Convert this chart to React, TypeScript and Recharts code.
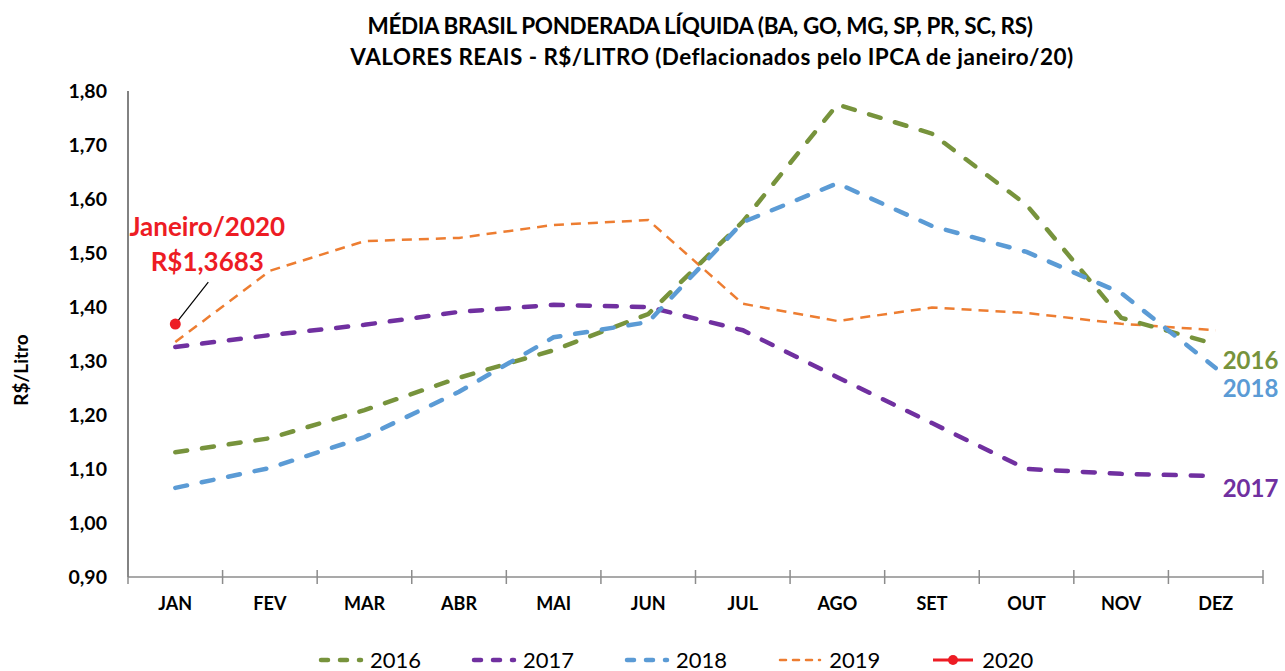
import React from 'react';
import { LineChart, Line, XAxis, YAxis } from 'recharts';

// ─── Data ─────────────────────────────────────────────────────────────────────

const MONTHS = ['JAN', 'FEV', 'MAR', 'ABR', 'MAI', 'JUN', 'JUL', 'AGO', 'SET', 'OUT', 'NOV', 'DEZ'];

const S2016 = [1.131, 1.157, 1.209, 1.269, 1.320, 1.387, 1.558, 1.775, 1.721, 1.589, 1.380, 1.331];
const S2017 = [1.326, 1.348, 1.367, 1.391, 1.404, 1.400, 1.357, 1.270, 1.185, 1.100, 1.091, 1.087];
const S2018 = [1.065, 1.102, 1.159, 1.243, 1.344, 1.372, 1.557, 1.629, 1.550, 1.502, 1.426, 1.287];
const S2019 = [1.335, 1.467, 1.522, 1.528, 1.552, 1.561, 1.406, 1.374, 1.399, 1.389, 1.369, 1.357];
const S2020 = [1.3683];

const Y_TICKS = [0.9, 1.0, 1.1, 1.2, 1.3, 1.4, 1.5, 1.6, 1.7, 1.8];

const data = MONTHS.map((m, i) => ({
  month: m,
  y2016: S2016[i],
  y2017: S2017[i],
  y2018: S2018[i],
  y2019: S2019[i],
  y2020: i < S2020.length ? S2020[i] : null,
}));

// ─── Styles ───────────────────────────────────────────────────────────────────

const FONT = 'Lato, "Open Sans", sans-serif';
const GREEN = '#77933C';
const PURPLE = '#7030A0';
const BLUE = '#5B9BD5';
const ORANGE = '#ED7D31';
const RED = '#ED1C24';
const AXIS_GRAY = '#8c8c8c';

const W = 1285;
const H = 671;

// ─── Helpers ──────────────────────────────────────────────────────────────────

const fmt = (v: number) => v.toFixed(2).replace('.', ',');

function endLabel(text: string, color: string, dy: number) {
  return (p: any) => {
    if (p.index !== MONTHS.length - 1) return <g key={`e-${text}-${p.index}`} />;
    return (
      <text
        key={`e-${text}`}
        x={p.x + 7}
        y={p.y + dy}
        fill={color}
        fontFamily={FONT}
        fontWeight={700}
        fontSize={24}
        dominantBaseline="central"
      >
        {text}
      </text>
    );
  };
}

function JanDot(p: any) {
  if (p.cx == null || p.cy == null) return <g key={p.key} />;
  const { cx, cy } = p;
  return (
    <g key={p.key}>
      <line x1={cx} y1={cy} x2={cx + 33} y2={cy - 42} stroke="#000" strokeWidth={1.2} />
      <circle cx={cx} cy={cy} r={5.5} fill={RED} />
      <text x={cx + 32} y={cy - 88} textAnchor="middle" fill={RED} fontFamily={FONT} fontWeight={700} fontSize={26}>
        Janeiro/2020
      </text>
      <text x={cx + 32} y={cy - 53} textAnchor="middle" fill={RED} fontFamily={FONT} fontWeight={700} fontSize={26}>
        R$1,3683
      </text>
    </g>
  );
}

// month label + Excel-style tick marks on the category boundaries
function MonthTick(p: any) {
  const half = p.payload?.offset ?? 0;
  const axisY = p.y - 20;
  const isLast = p.index === MONTHS.length - 1;
  return (
    <g>
      <line x1={p.x - half} x2={p.x - half} y1={axisY - 7} y2={axisY + 7} stroke={AXIS_GRAY} strokeWidth={1.5} />
      {isLast && (
        <line x1={p.x + half} x2={p.x + half} y1={axisY - 7} y2={axisY + 7} stroke={AXIS_GRAY} strokeWidth={1.5} />
      )}
      <text x={p.x} y={p.y} dy="0.71em" textAnchor="middle" fill="#000" fontFamily={FONT} fontWeight={700} fontSize={18}>
        {p.payload?.value}
      </text>
    </g>
  );
}

function LegendItem({ label, color, dash, width, dot }: { label: string; color: string; dash?: string; width: number; dot?: boolean }) {
  return (
    <span style={{ display: 'inline-flex', alignItems: 'center', gap: 6, marginRight: 50 }}>
      <svg width={46} height={14}>
        <line
          x1={3}
          x2={43}
          y1={7}
          y2={7}
          stroke={color}
          strokeWidth={width}
          strokeDasharray={dash}
          strokeLinecap={dash ? 'round' : 'butt'}
        />
        {dot && <circle cx={23} cy={7} r={5} fill={color} />}
      </svg>
      <span>{label}</span>
    </span>
  );
}

// ─── Main ─────────────────────────────────────────────────────────────────────

export default function App() {
  return (
    <div style={{ position: 'absolute', left: 0, top: 0, width: W, height: H, background: '#fff', fontFamily: FONT }}>
      <div
        style={{
          position: 'absolute',
          left: 0,
          top: 10,
          width: 1400,
          textAlign: 'center',
          fontWeight: 700,
          fontSize: 22.5,
          lineHeight: '31px',
          color: '#000',
        }}
      >
        <div style={{ letterSpacing: -0.38 }}>MÉDIA BRASIL PONDERADA LÍQUIDA (BA, GO, MG, SP, PR, SC, RS)</div>
        <div style={{ marginLeft: 24, letterSpacing: 0.45 }}>
          VALORES REAIS - R$/LITRO (Deflacionados pelo IPCA de janeiro/20)
        </div>
      </div>

      <div
        style={{
          position: 'absolute',
          left: 20,
          top: 370,
          transform: 'translate(-50%, -50%) rotate(-90deg)',
          fontWeight: 700,
          fontSize: 19,
          whiteSpace: 'nowrap',
          color: '#000',
        }}
      >
        R$/Litro
      </div>

      <LineChart width={W} height={H} data={data} margin={{ top: 91, right: 22, bottom: 93, left: 0 }}>
        <XAxis
          dataKey="month"
          scale="band"
          height={1}
          axisLine={{ stroke: AXIS_GRAY, strokeWidth: 1.5 }}
          tickLine={false}
          tickSize={0}
          tickMargin={20}
          interval={0}
          tick={<MonthTick />}
        />
        <YAxis
          width={128}
          domain={[0.9, 1.8]}
          ticks={Y_TICKS}
          tickFormatter={fmt}
          axisLine={{ stroke: '#595959', strokeWidth: 1.5 }}
          tickLine={false}
          tickSize={0}
          tickMargin={21}
          interval={0}
          tick={{ fill: '#000', fontSize: 19.5, fontWeight: 700, fontFamily: FONT }}
        />
        <Line
          dataKey="y2019"
          stroke={ORANGE}
          strokeWidth={2.5}
          strokeDasharray="10 7"
          dot={false}
          isAnimationActive={false}
        />
        <Line
          dataKey="y2016"
          stroke={GREEN}
          strokeWidth={4.5}
          strokeDasharray="12 15"
          strokeLinecap="round"
          dot={false}
          isAnimationActive={false}
          label={endLabel('2016', GREEN, 15)}
        />
        <Line
          dataKey="y2017"
          stroke={PURPLE}
          strokeWidth={4.5}
          strokeDasharray="12 15"
          strokeLinecap="round"
          dot={false}
          isAnimationActive={false}
          label={endLabel('2017', PURPLE, 11)}
        />
        <Line
          dataKey="y2018"
          stroke={BLUE}
          strokeWidth={4.5}
          strokeDasharray="12 15"
          strokeLinecap="round"
          dot={false}
          isAnimationActive={false}
          label={endLabel('2018', BLUE, 19)}
        />
        <Line
          dataKey="y2020"
          stroke={RED}
          strokeWidth={3}
          dot={<JanDot />}
          isAnimationActive={false}
        />
      </LineChart>

      <div
        style={{
          position: 'absolute',
          left: 318,
          top: 646,
          fontSize: 22,
          color: '#000',
          display: 'flex',
          alignItems: 'center',
          whiteSpace: 'nowrap',
          fontFamily: '"Liberation Sans Narrow", ' + FONT,
        }}
      >
        <LegendItem label="2016" color={GREEN} dash="7 12" width={4.5} />
        <LegendItem label="2017" color={PURPLE} dash="7 12" width={4.5} />
        <LegendItem label="2018" color={BLUE} dash="7 12" width={4.5} />
        <LegendItem label="2019" color={ORANGE} dash="6 7" width={2.5} />
        <LegendItem label="2020" color={RED} width={3} dot />
      </div>
    </div>
  );
}
